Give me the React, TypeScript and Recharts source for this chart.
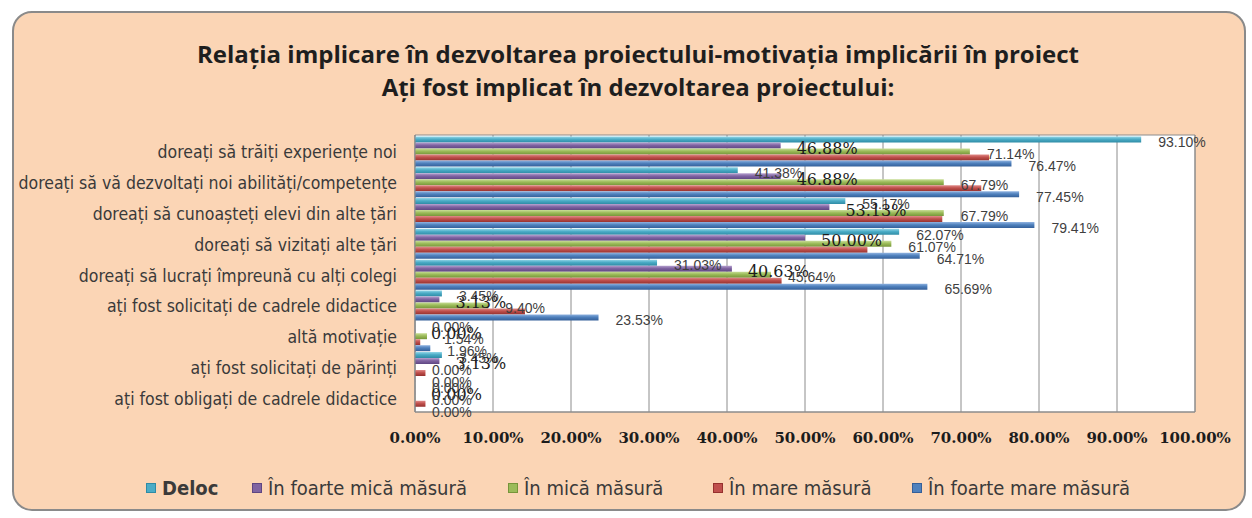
import React from "react";
import {
  BarChart,
  Bar,
  XAxis,
  YAxis,
  CartesianGrid,
  LabelList,
  ReferenceArea,
} from "recharts";

const categories = [
  "doreați să trăiți experiențe noi",
  "doreați să vă dezvoltați noi abilități/competențe",
  "doreați să cunoașteți elevi din alte țări",
  "doreați să vizitați alte țări",
  "doreați să lucrați împreună cu alți colegi",
  "ați fost solicitați de cadrele didactice",
  "altă motivație",
  "ați fost solicitați de părinți",
  "ați fost obligați de cadrele didactice",
];

const deloc = [93.1, 41.38, 55.17, 62.07, 31.03, 3.45, 0, 3.45, 0];
const foarteMica = [46.88, 46.88, 53.13, 50.0, 40.63, 3.13, 0, 3.13, 0];
const mica = [71.14, 67.79, 67.79, 61.07, 45.64, 9.4, 1.54, 0, 0];
const mare = [73.6, 72.6, 67.6, 58.0, 47.0, 14.1, 0.67, 1.34, 1.34];
const foarteMare = [76.47, 77.45, 79.41, 64.71, 65.69, 23.53, 1.96, 0, 0];

const xTicks = [0, 10, 20, 30, 40, 50, 60, 70, 80, 90, 100];

const titleLines = [
  "Relația implicare în dezvoltarea proiectului-motivația implicării în proiect",
  "Ați fost implicat în dezvoltarea proiectului:",
];

const seriesNames = [
  "Deloc",
  "În foarte mică măsură",
  "În mică măsură",
  "În mare măsură",
  "În foarte mare măsură",
];
const seriesKeys = ["deloc", "foarteMica", "mica", "mare", "foarteMare"];
const seriesColors = ["#4BACC6", "#8064A2", "#9BBB59", "#C0504D", "#4F81BD"];
const seriesLight = ["#93D6E8", "#B7A2D0", "#C8DD97", "#E08A88", "#8FB2E0"];
const seriesDark = ["#2E8BA5", "#5E4682", "#76953A", "#96312E", "#345F99"];
const legendLefts = [146, 252, 508, 713, 912];

const data = categories.map((c, i) => ({
  name: c,
  deloc: deloc[i],
  foarteMica: foarteMica[i],
  mica: mica[i],
  mare: mare[i],
  foarteMare: foarteMare[i],
}));

const fmt = (v: number) => v.toFixed(2) + "%";

const makeLabel =
  (big: boolean) =>
  (props: any) => {
    const { x, y, width, height, value } = props;
    if (value === undefined || value === null) return null;
    return (
      <text
        x={Number(x) + Number(width) + (big ? 16 : 17)}
        y={Number(y) + Number(height) / 2 + 4}
        dominantBaseline="middle"
        fontFamily={big ? "'DejaVu Serif', serif" : "'Liberation Sans', Arial, sans-serif"}
        fontSize={big ? 16 : 14}
        fill={big ? "#1c1c1c" : "#3f3f3f"}
      >
        {fmt(Number(value))}
      </text>
    );
  };

const YTick = (props: any) => {
  const { x, y, payload } = props;
  return (
    <text
      x={x}
      y={y + 3}
      textAnchor="end"
      dominantBaseline="middle"
      fontFamily="'Liberation Sans Narrow', 'DejaVu Sans Condensed', 'Arial Narrow', sans-serif"
      fontSize={17.5}
      fill="#3a3a3a"
    >
      {payload.value}
    </text>
  );
};

export default function App() {
  return (
    <div
      style={{
        position: "absolute",
        left: 0,
        top: 0,
        width: 1252,
        height: 518,
        background: "#ffffff",
        overflow: "hidden",
      }}
    >
      <div
        style={{
          position: "absolute",
          left: 12,
          top: 11,
          width: 1230,
          height: 496,
          border: "2px solid #8a8a8a",
          borderRadius: 20,
          background: "#FBD5B5",
        }}
      />
      <div
        style={{
          position: "absolute",
          left: 0,
          top: 37,
          width: 1252,
          textAlign: "center",
          fontFamily: "'Open Sans', 'Noto Sans', sans-serif",
          fontWeight: 700,
          fontSize: 24,
          lineHeight: "33px",
          color: "#1e1e1e",
          transform: "translateX(12px)",
        }}
      >
        {titleLines.map((t) => (
          <div key={t}>{t}</div>
        ))}
      </div>
      <div style={{ position: "absolute", left: 0, top: 0 }}>
        <BarChart
          width={1252}
          height={518}
          data={data}
          layout="vertical"
          margin={{ top: 135, right: 57, bottom: 66, left: 0 }}
          barCategoryGap="5%"
          barGap={0}
        >
          <defs>
            {seriesKeys.map((k, i) => (
              <linearGradient key={k} id={"g-" + k} x1="0" y1="0" x2="0" y2="1">
                <stop offset="0%" stopColor={seriesLight[i]} />
                <stop offset="45%" stopColor={seriesColors[i]} />
                <stop offset="100%" stopColor={seriesDark[i]} />
              </linearGradient>
            ))}
          </defs>
          <CartesianGrid
            horizontal={false}
            vertical={true}
            stroke="#8c8c8c"
            fill="#ffffff"
          />
          <ReferenceArea x1={0} x2={100} fill="none" stroke="#8c8c8c" strokeWidth={1} />
          <XAxis
            type="number"
            domain={[0, 100]}
            ticks={xTicks}
            tickFormatter={fmt}
            tickLine={false}
            tickSize={0}
            tickMargin={20}
            height={40}
            axisLine={{ stroke: "#8c8c8c" }}
            tick={{
              fontFamily: "'DejaVu Serif', serif",
              fontWeight: 700,
              fontSize: 15,
              fill: "#1c1c1c",
            }}
            interval={0}
          />
          <YAxis
            type="category"
            dataKey="name"
            width={415}
            tickLine={false}
            tickSize={0}
            tickMargin={18}
            axisLine={{ stroke: "#8c8c8c" }}
            tick={<YTick />}
            interval={0}
          />
          {seriesKeys.map((k, i) => (
            <Bar
              key={k}
              dataKey={k}
              name={seriesNames[i]}
              fill={"url(#g-" + k + ")"}
              minPointSize={0.1}
              isAnimationActive={false}
            >
              {k !== "mare" && (
                <LabelList dataKey={k} content={makeLabel(k === "foarteMica")} />
              )}
            </Bar>
          ))}
        </BarChart>
      </div>
      <div
        style={{
          position: "absolute",
          left: 0,
          top: 476,
          width: 1252,
          height: 26,
          fontFamily: "'Liberation Sans Narrow', 'DejaVu Sans Condensed', 'Arial Narrow', sans-serif",
          fontSize: 20,
          color: "#3a3a3a",
        }}
      >
        {seriesNames.map((n, i) => (
          <div
            key={n}
            style={{
              position: "absolute",
              left: legendLefts[i],
              top: 0,
              display: "flex",
              alignItems: "center",
              whiteSpace: "nowrap",
              fontWeight: i === 0 ? 700 : 400,
            }}
          >
            <span
              style={{
                display: "inline-block",
                width: 8,
                height: 8,
                marginRight: 6,
                background: seriesColors[i],
                border: "1px solid " + seriesDark[i],
              }}
            />
            <span>{n}</span>
          </div>
        ))}
      </div>
    </div>
  );
}
